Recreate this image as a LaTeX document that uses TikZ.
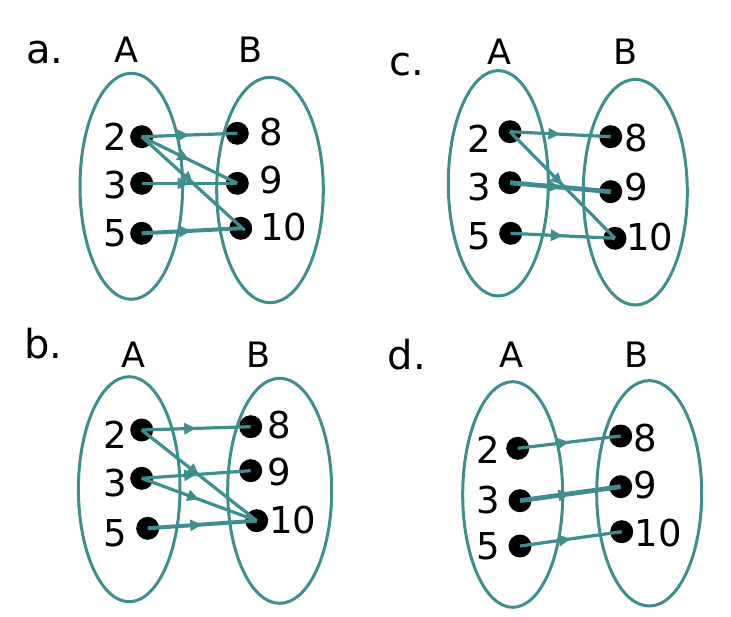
\documentclass[tikz,border=0pt]{standalone}
\usepackage{fontspec}
\setmainfont{DejaVu Sans}
\usetikzlibrary{arrows.meta,decorations.markings,shapes.geometric}
\definecolor{teal1}{RGB}{62,142,143}
\tikzset{
  setell/.style={draw=teal1,line width=3pt,ellipse,inner sep=0pt},
  dotnode/.style={circle,fill=black,minimum size=23pt,inner sep=0pt},
  numlbl/.style={font=\fontsize{37}{40}\selectfont,inner sep=0pt},
  setlbl/.style={font=\fontsize{35}{38}\selectfont,inner sep=0pt},
  partlbl/.style={font=\fontsize{40}{44}\selectfont,inner sep=0pt},
  conn/.style={draw=teal1,line width=3.2pt,postaction={decorate},
    decoration={markings,mark=at position 0.5 with {\arrow[teal1]{Triangle[length=12pt,width=11pt]}}}},
  thickconn/.style={conn,line width=4.8pt}
}
\begin{document}
\begin{tikzpicture}[x=1pt,y=-1pt]
\useasboundingbox (0,0) rectangle (731,616);
% ---------- panel a ----------
\node[partlbl] (la) at (45,53) {a.};
\node[setlbl] (aA) at (126,50) {A};
\node[setlbl] (aB) at (250.7,50) {B};
\node[setell,minimum width=102.6pt,minimum height=226pt] (aEA) at (131.3,186.3) {};
\node[setell,minimum width=106.6pt,minimum height=225.4pt] (aEB) at (270,190) {};
\node[dotnode] (a2) at (141.7,136.7) {};
\node[dotnode] (a3) at (141.7,183.3) {};
\node[dotnode] (a5) at (141.7,233.3) {};
\node[dotnode] (a8) at (237.3,133.3) {};
\node[dotnode] (a9) at (237.3,183.3) {};
\node[dotnode] (a10) at (240.7,228.3) {};
\node[numlbl] (ta2) at (115,136.7) {2};
\node[numlbl] (ta3) at (115,185) {3};
\node[numlbl] (ta5) at (115,233) {5};
\node[numlbl] (ta8) at (271.7,131.7) {8};
\node[numlbl] (ta9) at (271.7,180) {9};
\node[numlbl] (ta10) at (284,226.7) {10};
\draw[conn] (a2.center) -- (a8.center);
\draw[conn] (a2.center) -- (a9.center);
\draw[conn] (a2.center) -- ([shift={(4,2)}]a10.center);
\draw[conn] (a3.center) -- (a9.center);
\draw[thickconn,line width=4pt] (a5.center) -- (a10.center);
% ---------- panel c ----------
\node[partlbl] (lc) at (406.7,65) {c.};
\node[setlbl] (cA) at (499.3,51.7) {A};
\node[setlbl] (cB) at (625,51.7) {B};
\node[setell,minimum width=100pt,minimum height=225.4pt] (cEA) at (498.3,183.3) {};
\node[setell,minimum width=104pt,minimum height=225.6pt] (cEB) at (635.3,192.2) {};
\node[dotnode] (c2) at (510,131.7) {};
\node[dotnode] (c3) at (510,182.7) {};
\node[dotnode] (c5) at (510.7,233.3) {};
\node[dotnode] (c8) at (610.7,136.7) {};
\node[dotnode] (c9) at (610.7,191.7) {};
\node[dotnode] (c10) at (615,238.3) {};
\node[numlbl] (tc2) at (479.3,138.3) {2};
\node[numlbl] (tc3) at (479.3,187.3) {3};
\node[numlbl] (tc5) at (479.3,236) {5};
\node[numlbl] (tc8) at (636.7,138.3) {8};
\node[numlbl] (tc9) at (636.7,187.3) {9};
\node[numlbl] (tc10) at (650,236.7) {10};
\draw[conn] (c2.center) -- (c8.center);
\draw[conn] (c2.center) -- (c10.center);
\draw[thickconn] (c3.center) -- (c9.center);
\draw[conn] (c5.center) -- (c10.center);
% ---------- panel b ----------
\node[partlbl] (lb) at (43.3,343.3) {b.};
\node[setlbl] (bA) at (133.3,355) {A};
\node[setlbl] (bB) at (258.3,355) {B};
\node[setell,minimum width=101.6pt,minimum height=225pt] (bEA) at (129.2,489.2) {};
\node[setell,minimum width=104pt,minimum height=225pt] (bEB) at (279.7,490.8) {};
\node[dotnode] (b2) at (141.7,430) {};
\node[dotnode] (b3) at (141.7,478.3) {};
\node[dotnode] (b5) at (147.7,528.3) {};
\node[dotnode] (b8) at (250.7,426.7) {};
\node[dotnode] (b9) at (250.7,470.7) {};
\node[dotnode] (b10) at (256.7,520.7) {};
\node[numlbl] (tb2) at (115,435) {2};
\node[numlbl] (tb3) at (115,483.3) {3};
\node[numlbl] (tb5) at (115,533.3) {5};
\node[numlbl] (tb8) at (279.3,425) {8};
\node[numlbl] (tb9) at (279.3,471.7) {9};
\node[numlbl] (tb10) at (292.7,520) {10};
\draw[conn] (b2.center) -- (b8.center);
\draw[conn] (b2.center) -- (b10.center);
\draw[conn] (b3.center) -- (b9.center);
\draw[conn] (b3.center) -- (b10.center);
\draw[thickconn,line width=4pt] (b5.center) -- (b10.center);
% ---------- panel d ----------
\node[partlbl] (ld) at (406.7,355) {d.};
\node[setlbl] (dA) at (511.7,355) {A};
\node[setlbl] (dB) at (636.7,355) {B};
\node[setell,minimum width=100pt,minimum height=225.6pt] (dEA) at (512.7,494.5) {};
\node[setell,minimum width=105pt,minimum height=225.4pt] (dEB) at (649.2,493.3) {};
\node[dotnode] (d2) at (517.7,448.3) {};
\node[dotnode] (d3) at (520,500.7) {};
\node[dotnode] (d5) at (520,546) {};
\node[dotnode] (d8) at (620.7,436) {};
\node[dotnode] (d9) at (620.7,486.7) {};
\node[dotnode] (d10) at (621.7,531.7) {};
\node[numlbl] (td2) at (488.3,450) {2};
\node[numlbl] (td3) at (488.3,500) {3};
\node[numlbl] (td5) at (488.3,546.7) {5};
\node[numlbl] (td8) at (645,438.3) {8};
\node[numlbl] (td9) at (645,485) {9};
\node[numlbl] (td10) at (658.3,533.3) {10};
\draw[conn] (d2.center) -- (d8.center);
\draw[thickconn] (d3.center) -- (d9.center);
\draw[conn] (d5.center) -- (d10.center);
\end{tikzpicture}
\end{document}
